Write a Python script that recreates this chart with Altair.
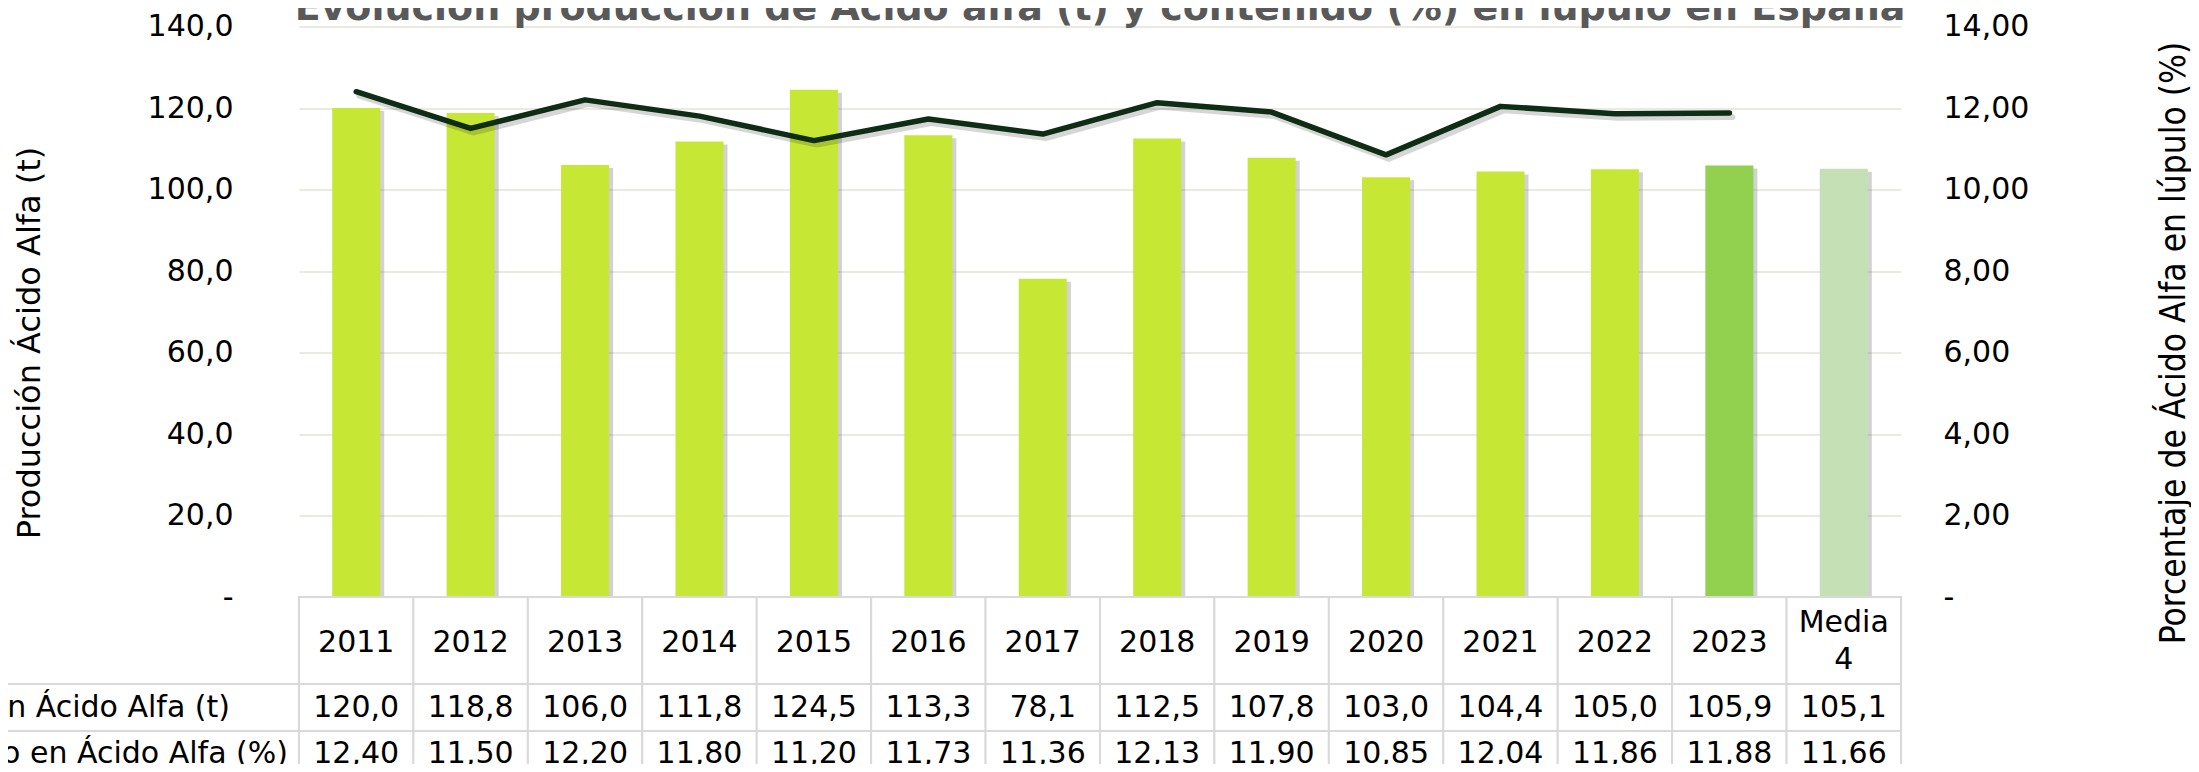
import altair as alt
import pandas as pd

# ---------------- data ----------------
categories = ["2011", "2012", "2013", "2014", "2015", "2016", "2017",
              "2018", "2019", "2020", "2021", "2022", "2023", "Media 4"]
produccion = [120.0, 118.8, 106.0, 111.8, 124.5, 113.3, 78.1,
              112.5, 107.8, 103.0, 104.4, 105.0, 105.9, 105.1]
contenido = [12.40, 11.50, 12.20, 11.80, 11.20, 11.73, 11.36,
             12.13, 11.90, 10.85, 12.04, 11.86, 11.88, 11.66]
row_labels = ["Producción Ácido Alfa (t)", "Contenido en Ácido Alfa (%)"]
left_ticks = [0, 20, 40, 60, 80, 100, 120, 140]
right_ticks = [0, 2, 4, 6, 8, 10, 12, 14]
title_text = "Evolución producción de Ácido alfa (t) y contenido (%) en lúpulo en España"
left_title = "Producción Ácido Alfa (t)"
right_title = "Porcentaje de Ácido Alfa en lúpulo (%)"
kinds = ["year", "last", "mean"]

df = pd.DataFrame({"cat": categories, "prod": produccion, "pct": contenido})

# ---------------- style ----------------
W, H = 1602, 570.5
FONT = "DejaVu Sans"
FS = 30
GRID = "#ECE9E0"
BORDER = "#D9D9D9"
kind_colors = ["#C6E835", "#92D050", "#C5E0B4"]

xenc = alt.X("cat:N", sort=categories,
             scale=alt.Scale(domain=categories, paddingInner=0, paddingOuter=0),
             axis=None)

base = alt.Chart(df).transform_calculate(
    kind="datum.cat == '2023' ? 'last' : (datum.cat == 'Media 4' ? 'mean' : 'year')",
    prod_txt="replace(format(datum.prod, '.1f'), '.', ',')",
    pct_txt="replace(format(datum.pct, '.2f'), '.', ',')",
)

left_axis = alt.Axis(
    values=left_ticks,
    labelExpr="datum.value == 0 ? '-\u00a0\u00a0' : replace(format(datum.value, '.1f'), '.', ',')",
    labelFont=FONT, labelFontSize=FS, labelColor="#000000", labelPadding=66,
    ticks=False, domain=False, grid=True, gridColor=GRID, gridWidth=2,
    title=left_title, titleFont=FONT, titleFontSize=32, titleFontWeight="normal",
    titleColor="#000000", titleX=-270, titleY=316, titleAngle=270,
    titleAlign="center", titleBaseline="middle",
)
right_axis = alt.Axis(
    orient="right", values=right_ticks,
    labelExpr="datum.value == 0 ? '-' : replace(format(datum.value, '.2f'), '.', ',')",
    labelFont=FONT, labelFontSize=FS, labelColor="#000000", labelPadding=42,
    labelAlign="left", ticks=False, domain=False, grid=False,
    title=right_title,
    titleFont="DejaVu Sans Condensed, Liberation Sans Narrow, DejaVu Sans",
    titleFontSize=35, titleFontWeight="normal", titleColor="#000000",
    titleX=272, titleY=316, titleAngle=270, titleAlign="center", titleBaseline="middle",
)

bar_w = alt.RelativeBandSize(0.42)

bar_shadow = base.mark_bar(color="#7F7F7F", opacity=0.35, xOffset=4, yOffset=3,
                           width=bar_w).encode(
    x=xenc,
    y=alt.Y("prod:Q", scale=alt.Scale(domain=[0, 140]), axis=None),
)
bars = base.mark_bar(width=bar_w).encode(
    x=xenc,
    y=alt.Y("prod:Q", scale=alt.Scale(domain=[0, 140]), axis=left_axis),
    color=alt.Color("kind:N", scale=alt.Scale(domain=kinds, range=kind_colors), legend=None),
)

line_data = base.transform_filter("datum.cat != 'Media 4'")
line_shadow = line_data.mark_line(color="#000000", opacity=0.16, strokeWidth=6,
                                  xOffset=3, yOffset=4, strokeCap="round",
                                  strokeJoin="round").encode(
    x=xenc,
    y=alt.Y("pct:Q", scale=alt.Scale(domain=[0, 14]), axis=None),
)
line = line_data.mark_line(color="#0F2D14", strokeWidth=5.5, strokeCap="round",
                           strokeJoin="round").encode(
    x=xenc,
    y=alt.Y("pct:Q", scale=alt.Scale(domain=[0, 14]), axis=right_axis),
)

# ---------------- data table ----------------
cell_header = base.mark_rect(fill="white", stroke=BORDER, strokeWidth=2).encode(
    x=xenc, y=alt.value(570.5), y2=alt.value(657.5))
cell_r1 = base.mark_rect(fill="white", stroke=BORDER, strokeWidth=2).encode(
    x=xenc, y=alt.value(657.5), y2=alt.value(704.5))
cell_r2 = base.mark_rect(fill="white", stroke=BORDER, strokeWidth=2).encode(
    x=xenc, y=alt.value(704.5), y2=alt.value(751.5))

txt_years = base.transform_filter("datum.cat != 'Media 4'").mark_text(
    font=FONT, fontSize=FS, color="#000000", baseline="middle").encode(
    x=xenc, y=alt.value(616.5), text="cat:N")
txt_media = base.transform_filter("datum.cat == 'Media 4'").mark_text(
    font=FONT, fontSize=FS, color="#000000", baseline="middle",
    lineBreak=" ", lineHeight=37).encode(
    x=xenc, y=alt.value(596.5), text="cat:N")
txt_r1 = base.mark_text(font=FONT, fontSize=FS, color="#000000", baseline="middle").encode(
    x=xenc, y=alt.value(681.5), text="prod_txt:N")
txt_r2 = base.mark_text(font=FONT, fontSize=FS, color="#000000", baseline="middle").encode(
    x=xenc, y=alt.value(727), text="pct_txt:N")

one = pd.DataFrame({"a": [0]})
lab1 = alt.Chart(pd.DataFrame({"t": [row_labels[0]]})).mark_text(
    font=FONT, fontSize=FS, color="#000000", align="right", baseline="middle").encode(
    x=alt.value(-69), y=alt.value(681.5), text="t:N")
lab2 = alt.Chart(pd.DataFrame({"t": [row_labels[1]]})).mark_text(
    font=FONT, fontSize=FS, color="#000000", align="right", baseline="middle").encode(
    x=alt.value(-11), y=alt.value(727), text="t:N")
rule1 = alt.Chart(one).mark_rule(color=BORDER, strokeWidth=2).encode(
    x=alt.value(-300), x2=alt.value(0), y=alt.value(657.5))
rule2 = alt.Chart(one).mark_rule(color=BORDER, strokeWidth=2).encode(
    x=alt.value(-300), x2=alt.value(0), y=alt.value(704.5))

title = alt.Chart(pd.DataFrame({"t": [title_text]})).mark_text(
    font=FONT, fontWeight="bold", fontSize=38, color="#595959",
    align="center", baseline="alphabetic").encode(
    x=alt.value(W / 2), y=alt.value(-7), text="t:N")

chart = alt.layer(
    bar_shadow, bars, line_shadow, line,
    cell_header, cell_r1, cell_r2, txt_years, txt_media, txt_r1, txt_r2,
    lab1, lab2, rule1, rule2, title,
).resolve_scale(y="independent").properties(
    width=W, height=H,
    autosize=alt.AutoSizeParams(type="none"),
    padding={"left": 291, "top": 18.5, "right": 290, "bottom": 167},
).configure_view(stroke=None)

chart.save("out.html", embed_options={"renderer": "svg", "actions": False})
